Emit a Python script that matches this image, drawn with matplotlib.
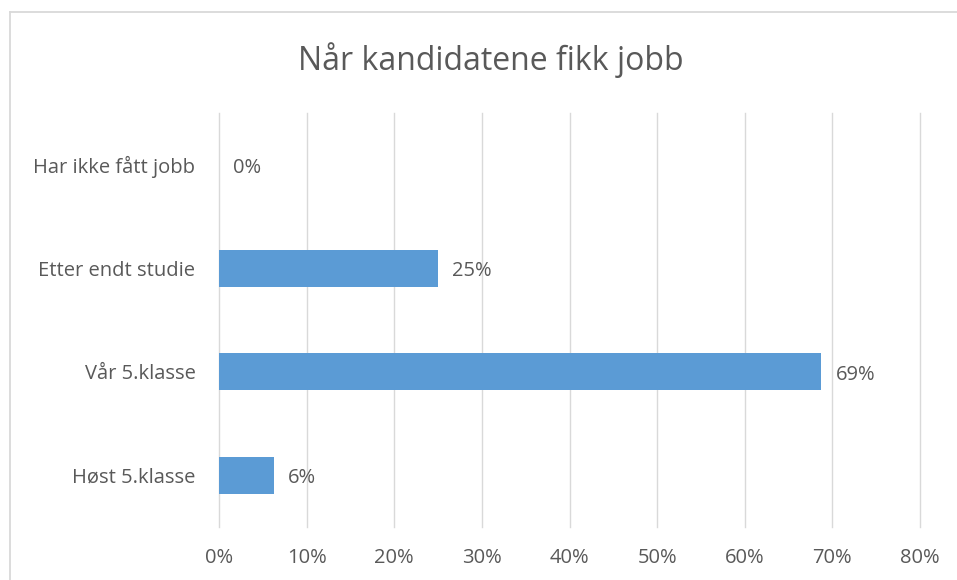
import matplotlib.pyplot as plt
from matplotlib.lines import Line2D

categories = ['Høst 5.klasse', 'Vår 5.klasse', 'Etter endt studie', 'Har ikke fått jobb']
values = [6.25, 68.75, 25.0, 0.0]
labels = ['6%', '69%', '25%', '0%']
xticks = [0, 10, 20, 30, 40, 50, 60, 70, 80]

text_col = '#595959'
grid_col = '#D9D9D9'
bar_col = '#5B9BD5'

plt.rcParams['font.family'] = ['Open Sans', 'DejaVu Sans']

fig = plt.figure(figsize=(9.57, 5.8), dpi=100)
ax = fig.add_axes([219 / 957, 1 - 527 / 580, (920 - 219) / 957, (527 - 113) / 580])

y = list(range(len(categories)))
ax.barh(y, values, height=0.36, color=bar_col, zorder=3)
for yi, v, lab in zip(y, values, labels):
    ax.text(v + 1.6, yi - 0.03, lab, va='center', ha='left', fontsize=14.5, color=text_col)

ax.set_xlim(0, 80)
ax.set_ylim(-0.5, 3.5)
ax.set_xticks(xticks)
ax.set_xticklabels([f'{t}%' for t in xticks])
ax.set_yticks(y)
ax.set_yticklabels(categories)
ax.tick_params(axis='both', length=0, labelsize=14.5, labelcolor=text_col)
ax.tick_params(axis='x', pad=15)
ax.tick_params(axis='y', pad=17)
ax.grid(axis='x', color=grid_col, linewidth=1.0, zorder=0)
for gl in ax.get_xgridlines():
    gl.set_clip_on(False)
for s in ax.spines.values():
    s.set_visible(False)

fig.text(491 / 957, 1 - 60 / 580, 'Når kandidatene fikk jobb', ha='center', va='center',
         fontsize=23, color=text_col)

# chart border (only top and left visible in the crop)
fig.add_artist(Line2D([9.5 / 957, 9.5 / 957], [0, 1 - 12 / 580], transform=fig.transFigure,
                      color=grid_col, linewidth=1.3))
fig.add_artist(Line2D([9.5 / 957, 1], [1 - 12 / 580, 1 - 12 / 580], transform=fig.transFigure,
                      color=grid_col, linewidth=1.3))

fig.savefig('out.png', dpi=100)
